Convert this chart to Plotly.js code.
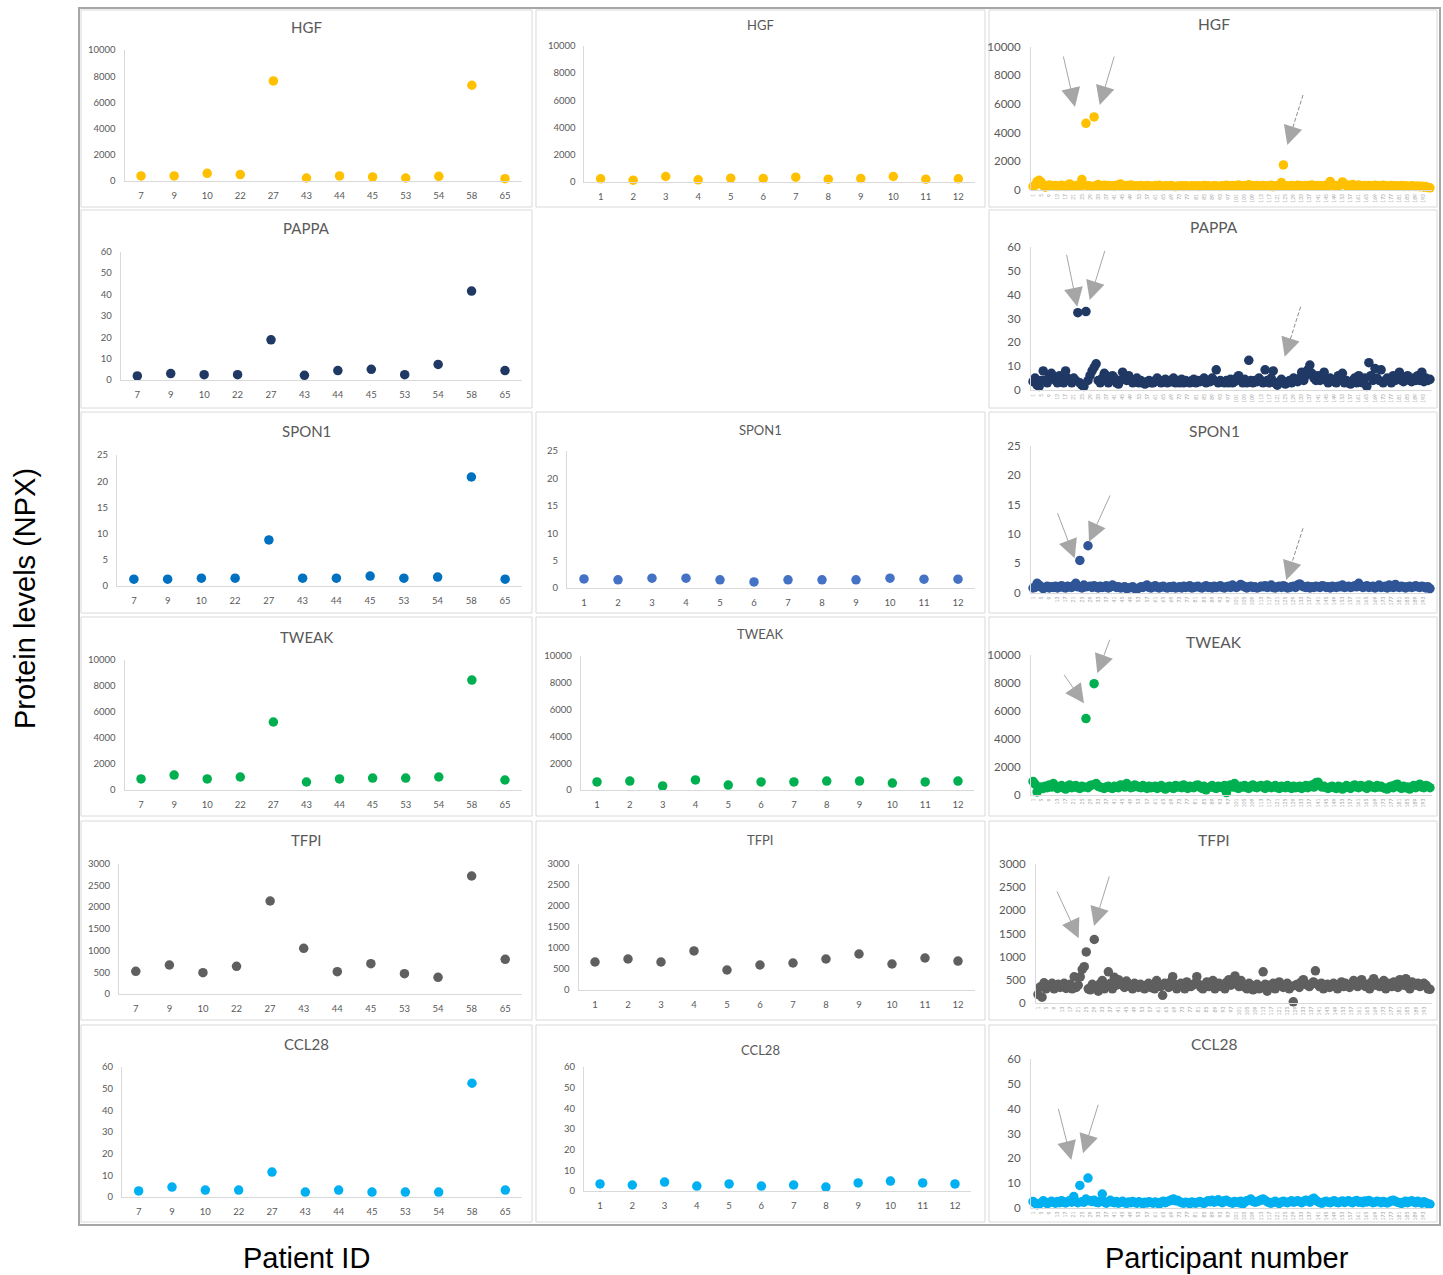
<!DOCTYPE html>
<html><head><meta charset="utf-8">
<script src="https://cdn.plot.ly/plotly-3.0.1.min.js"></script>
<style>html,body{margin:0;padding:0;background:#fff}#chart{width:1443px;height:1275px}</style>
</head><body><div id="chart"></div>
<script>
// ---------- DATA ----------
const patientIds = ['7','9','10','22','27','43','44','45','53','54','58','65'];
const sampleIds = ['1','2','3','4','5','6','7','8','9','10','11','12'];

const hgfPatients   = [385,385,590,487,7640,230,385,308,230,360,7310,180];
const pappaPatients = [1.9,3.0,2.5,2.5,18.8,2.2,4.4,5.0,2.5,7.3,41.6,4.4];
const spon1Patients = [1.3,1.3,1.5,1.5,8.8,1.5,1.5,1.9,1.5,1.7,20.8,1.3];
const tweakPatients = [850,1150,850,1000,5230,615,850,920,920,1000,8460,770];
const tfpiPatients  = [522,668,491,637,2141,1051,514,698,468,384,2717,798];
const ccl28Patients = [2.8,4.6,3.2,3.2,11.5,2.3,3.2,2.3,2.3,2.3,52.5,3.2];

const hgfSamples   = [196,100,368,123,245,220,319,172,220,368,172,196];
const spon1Samples = [1.65,1.5,1.8,1.8,1.5,1.1,1.5,1.5,1.5,1.8,1.6,1.6];
const tweakSamples = [600,670,300,750,370,600,600,670,670,520,600,670];
const tfpiSamples  = [667,738,667,929,476,595,643,738,857,619,762,690];
const ccl28Samples = [3.4,2.9,4.3,2.4,3.4,2.4,2.9,1.9,3.9,4.8,3.9,3.4];

const hgfCohort = [250,320,600,680,550,300,200,280,350,300,
 260,310,240,280,330,290,250,310,420,280,
 300,260,330,280,740,350,4650,300,280,250,
 5100,320,380,300,260,340,280,310,260,300,
 240,330,280,420,300,260,310,270,350,290,
 260,300,240,310,280,260,320,290,250,270,
 310,280,330,260,240,300,280,260,310,250,
 230,280,260,300,240,290,270,250,300,280,
 260,300,240,280,310,260,290,250,270,300,
 280,260,240,300,280,330,260,290,320,270,
 300,350,280,260,310,290,370,260,300,280,
 320,250,290,310,260,300,280,340,230,300,
 280,260,520,1750,300,260,280,310,250,290,
 330,280,300,260,310,280,320,350,290,270,
 310,280,300,260,330,290,600,380,300,320,
 280,350,560,420,300,330,290,380,310,280,
 350,300,270,320,290,310,260,300,340,280,
 300,260,330,290,250,280,310,260,300,280,
 260,310,240,290,270,250,300,260,240,280,
 230,260,200,240,180,150];

const pappaCohort = [3.5,5,2,1.5,4,8,4,3,6,7,
 5,4,3,6,4,3,8,5,4,3,
 5,4,32.5,3,2,1.5,33,4,6,8,
 9.5,11,4,3,5,7,6,3,4,6,
 5,3,2.5,4,7.5,5,4,6,4,3,
 4,5,3,4,3,2.5,3.5,4,3,3,
 4,5,3.5,3,4,4.5,3,4,3.5,5,
 3,4,3,4.5,3,4,3.5,3,4,4.5,
 3,4,3.5,4,5,3,4,3.5,5,4,
 8.5,3,4,3.5,3,4,3,4.5,3,3.5,
 5,6,4,3,4.5,3,12.5,4,3,4,
 3.5,5,4,3,8.5,4,3,5,8,3,
 2,3.5,4.5,3,2.5,3.5,4,3,5,4,
 3.5,5,7.5,4,6,8.5,10.5,7,5,4,
 6,4,5,7.5,4,3,5,4,3.5,3,
 6,5,7,3,4,3,2.5,4,5,3,
 6,4,3,5,1.5,11.5,6,4,9,5,
 4,8.5,3,4,5,4,3,6,4,5,
 7.5,4,3.5,5,6,4,3.5,5,4,6,
 4,7.5,3.5,5,4,4.5];

const spon1Cohort = [0.8,0.9,1.6,1.3,1.0,0.7,0.9,1.1,0.8,1.0,
 0.9,1.1,0.8,1.0,1.2,0.9,0.8,1.1,1.0,0.9,
 1.2,1.6,1.0,5.5,0.8,1.3,1.0,8.0,1.1,0.9,
 1.2,1.0,0.8,1.1,0.9,1.0,1.2,0.8,1.0,1.3,
 1.1,0.9,1.0,0.8,0.9,1.0,0.7,0.8,0.9,1.0,
 0.7,0.6,0.8,1.0,0.9,1.1,1.3,0.9,0.8,1.0,
 1.2,0.9,0.8,1.0,1.1,0.9,0.8,1.0,0.9,1.1,
 0.8,0.9,1.0,0.8,1.1,0.9,1.0,1.2,0.8,0.9,
 1.0,1.1,0.9,0.8,1.0,1.2,0.9,1.0,0.8,1.1,
 0.9,1.0,1.2,0.9,0.8,1.0,1.1,0.9,1.3,1.0,
 0.9,1.1,1.4,1.2,1.0,0.8,1.0,1.1,0.9,1.0,
 0.8,0.9,1.1,1.0,1.2,0.9,1.0,1.3,0.9,0.8,
 1.0,1.1,0.9,1.2,1.0,0.8,0.9,1.0,1.1,0.9,
 1.3,1.5,1.2,1.0,0.9,1.1,0.8,1.0,0.9,1.1,
 1.0,0.9,1.2,1.1,0.9,1.0,0.8,1.1,1.0,0.9,
 1.1,1.0,1.3,0.9,1.0,1.1,0.9,1.0,1.2,1.0,
 1.6,1.1,0.9,1.0,1.2,0.9,1.0,1.1,0.8,1.0,
 1.3,0.9,1.0,1.1,0.8,1.3,1.0,0.9,1.4,1.0,
 0.9,1.1,1.0,0.8,1.0,1.1,0.9,1.0,1.2,1.0,
 0.9,1.1,1.0,0.8,1.0,0.7];

const tweakCohort = [950,750,200,400,550,450,600,500,700,550,
 800,600,450,550,650,500,400,600,700,500,
 550,650,500,450,600,550,5450,500,650,700,
 7950,800,600,550,500,450,550,600,500,450,
 600,550,500,700,650,550,800,600,500,550,
 700,600,550,500,650,550,450,600,500,550,
 600,450,550,650,500,400,550,600,500,450,
 650,550,600,500,700,550,450,600,550,500,
 650,700,550,450,600,350,500,550,650,500,
 450,600,550,500,650,150,600,700,550,800,
 500,450,600,550,650,500,450,600,700,550,
 500,600,650,550,450,700,600,500,550,650,
 500,450,600,550,500,650,550,450,600,500,
 550,600,450,550,650,500,600,700,550,850,
 900,650,550,600,500,450,550,600,500,450,
 600,550,400,500,650,550,450,600,700,550,
 500,650,600,550,450,700,600,550,500,650,
 550,600,500,450,400,550,600,500,700,750,
 550,450,600,500,550,400,550,650,500,600,
 750,550,500,650,600,500];

const tfpiCohort = [180,340,120,430,300,380,350,420,300,360,
 400,330,380,420,310,350,400,300,560,330,
 380,560,720,780,1100,300,280,400,1370,330,
 250,420,480,300,350,670,420,300,550,380,
 500,450,380,330,470,400,350,300,420,380,
 330,400,350,300,380,420,330,370,300,480,
 400,350,160,420,380,330,450,565,400,300,
 350,420,380,300,450,400,350,380,420,565,
 400,330,300,380,450,350,420,480,300,380,
 420,350,400,300,450,500,380,420,580,400,
 350,480,400,330,300,420,380,280,350,400,
 300,330,670,400,250,380,350,420,300,380,
 450,400,330,380,420,300,350,20,380,400,
 330,450,500,420,380,350,400,450,690,400,
 350,420,300,380,400,330,350,420,380,300,
 400,450,350,420,380,330,400,480,450,350,
 420,500,380,350,400,300,450,520,380,420,
 350,400,480,300,420,380,350,450,400,330,
 500,420,380,520,350,300,450,400,380,420,
 350,400,420,380,300,290];

const ccl28Cohort = [2.5,1.8,1.2,1.5,2.0,2.8,2.2,1.6,2.0,2.6,
 2.2,1.8,2.5,2.0,2.8,2.3,1.9,2.4,2.9,2.2,
 4.5,2.6,2.0,9.0,2.4,2.2,3.5,12.0,2.8,2.5,
 3.0,2.2,2.0,2.6,5.5,2.3,1.8,2.4,3.0,2.2,
 2.0,2.5,1.8,2.2,2.6,2.0,1.7,2.3,2.0,2.5,
 2.1,1.8,2.4,2.0,1.6,2.2,1.9,2.4,2.1,1.8,
 2.3,2.0,1.5,2.2,2.6,2.0,2.4,2.8,3.2,3.5,
 2.8,3.0,2.4,2.0,1.8,2.2,2.0,1.6,2.3,2.0,
 1.8,2.2,2.5,2.0,1.7,2.3,2.8,2.4,3.0,2.2,
 2.6,3.2,2.5,2.0,2.8,3.0,2.4,2.2,1.8,2.5,
 2.3,2.0,2.6,1.5,2.2,2.8,3.0,3.5,2.6,2.2,
 2.4,2.8,3.2,3.5,3.0,2.4,2.0,1.8,2.2,2.6,
 2.0,1.7,2.3,2.6,2.2,2.0,2.4,2.8,2.2,2.5,
 2.8,2.4,2.0,2.6,3.0,2.8,2.2,3.4,3.8,3.0,
 2.4,2.0,1.8,2.3,2.6,2.2,2.0,2.5,2.8,2.2,
 2.0,2.4,2.7,2.1,2.5,2.8,2.3,2.0,2.6,2.9,
 2.2,2.5,2.0,2.7,2.3,2.9,2.5,2.0,2.2,2.6,
 2.4,2.0,2.5,2.2,1.9,2.3,2.8,3.0,2.6,2.2,
 2.0,1.7,2.2,2.6,2.0,2.4,2.8,2.3,2.0,2.6,
 2.2,1.8,2.4,2.0,1.6,1.4];

// participant numbers (index of each cohort member) and the labelled ticks
const participants = [];
for (let i = 1; i <= hgfCohort.length; i++) participants.push(i);
const participantTicks = participants.filter(p => (p - 1) % 4 === 0);

// ---------- LAYOUT ----------
const W = 1443, H = 1275;
const C = {hgf:'#FFC000', pappa:'#1F3864', spon1a:'#0070C0', spon1b:'#4472C4', spon1c:'#2F5597',
           tweak:'#00B050', tfpi:'#5F5F5F', ccl28:'#00B0F0'};

// xd: [left,right] px of plot area; yd: [top,bottom] px of y range
const panels = [
 {col:1, x:patientIds, y:hgfPatients, c:C.hgf, xd:[124.5,521.5], yd:[50,181], ymax:10000, dt:2000, t:'HGF', ty:27},
 {col:2, x:sampleIds, y:hgfSamples, c:C.hgf, xd:[584.4,974.6], yd:[46,181.5], ymax:10000, dt:2000, t:'HGF', ty:25},
 {col:3, x:participants, y:hgfCohort, c:C.hgf, xd:[1031,1432], yd:[46.7,190], ymax:10000, dt:2000, t:'HGF', ty:24},
 {col:1, x:patientIds, y:pappaPatients, c:C.pappa, xd:[120.6,521.7], yd:[251.7,380], ymax:60, dt:10, t:'PAPPA', ty:228},
 {col:3, x:participants, y:pappaCohort, c:C.pappa, xd:[1031,1432], yd:[247.3,390], ymax:60, dt:10, t:'PAPPA', ty:227},
 {col:1, x:patientIds, y:spon1Patients, c:C.spon1a, xd:[117,522], yd:[455,586], ymax:25, dt:5, t:'SPON1', ty:431},
 {col:2, x:sampleIds, y:spon1Samples, c:C.spon1b, xd:[567,975], yd:[451,588], ymax:25, dt:5, t:'SPON1', ty:430},
 {col:3, x:participants, y:spon1Cohort, c:C.spon1c, xd:[1031,1432], yd:[446,592.7], ymax:25, dt:5, t:'SPON1', ty:431},
 {col:1, x:patientIds, y:tweakPatients, c:C.tweak, xd:[124.5,521.5], yd:[660,790], ymax:10000, dt:2000, t:'TWEAK', ty:637},
 {col:2, x:sampleIds, y:tweakSamples, c:C.tweak, xd:[580.6,974.4], yd:[656,790], ymax:10000, dt:2000, t:'TWEAK', ty:634},
 {col:3, x:participants, y:tweakCohort, c:C.tweak, xd:[1031,1432], yd:[655,794.7], ymax:10000, dt:2000, t:'TWEAK', ty:642},
 {col:1, x:patientIds, y:tfpiPatients, c:C.tfpi, xd:[119,522], yd:[863.7,994], ymax:3000, dt:500, t:'TFPI', ty:840},
 {col:2, x:sampleIds, y:tfpiSamples, c:C.tfpi, xd:[578.5,974.5], yd:[864,990], ymax:3000, dt:500, t:'TFPI', ty:840},
 {col:3, x:participants, y:tfpiCohort, c:C.tfpi, xd:[1036,1432], yd:[864.3,1002.7], ymax:3000, dt:500, t:'TFPI', ty:840},
 {col:1, x:patientIds, y:ccl28Patients, c:C.ccl28, xd:[122,522], yd:[1067,1197], ymax:60, dt:10, t:'CCL28', ty:1044},
 {col:2, x:sampleIds, y:ccl28Samples, c:C.ccl28, xd:[583.9,971.1], yd:[1067,1191], ymax:60, dt:10, t:'CCL28', ty:1050},
 {col:3, x:participants, y:ccl28Cohort, c:C.ccl28, xd:[1031,1432], yd:[1059.3,1207.7], ymax:60, dt:10, t:'CCL28', ty:1044}
];
const titleX = {1:306, 2:760, 3:1214};
const titleSize = {1:15, 2:13, 3:15.5};

const FONT = 'Lato, "Open Sans", sans-serif';
const TXT = '#595959';
const px = v => v / W, py = v => 1 - v / H;

const traces = [];
const layout = {
  width: W, height: H, margin:{l:0,r:0,t:0,b:0},
  paper_bgcolor:'#fff', plot_bgcolor:'rgba(0,0,0,0)', showlegend:false,
  font:{family:FONT, color:TXT}, annotations:[], shapes:[]
};

panels.forEach((p, i) => {
  const n = i + 1, s = n === 1 ? '' : String(n);
  traces.push({type:'scatter', mode:'markers', x:p.x, y:p.y, xaxis:'x'+s, yaxis:'y'+s,
    cliponaxis:false, hoverinfo:'skip',
    marker:{color:p.c, size:9.5, line:{width:0}}});
  const xa = {domain:[px(p.xd[0]), px(p.xd[1])], anchor:'y'+s, showgrid:false, zeroline:false,
    showline:true, linecolor:'#d9d9d9', linewidth:1, ticks:'', fixedrange:true};
  if (p.col === 3) {
    Object.assign(xa, {type:'linear', range:[0, 197], tickmode:'array', tickvals:participantTicks,
      ticktext:participantTicks.map(String), tickangle:-90, ticklabelstandoff:1,
      tickfont:{size:5, color:'#a6a6a6', family:FONT}});
  } else {
    Object.assign(xa, {type:'category', range:[-0.5, 11.5], ticklabelstandoff:6,
      tickfont:{size:9.5, color:TXT, family:FONT}});
  }
  layout['xaxis'+s] = xa;
  layout['yaxis'+s] = {domain:[py(p.yd[1]), py(p.yd[0])], anchor:'x'+s, range:[0, p.ymax], dtick:p.dt,
    tick0:0, tickformat:'d', showgrid:false, zeroline:false, showline:true, linecolor:'#d9d9d9', linewidth:1,
    ticks:'', ticklabelstandoff: p.col === 3 ? 7 : 6, fixedrange:true,
    tickfont:{size: p.col === 3 ? 11.5 : 9.5, color:TXT, family:FONT}};
  layout.annotations.push({xref:'paper', yref:'paper', x:px(titleX[p.col]), y:py(p.ty),
    xanchor:'center', yanchor:'middle', showarrow:false, text:p.t,
    font:{size:titleSize[p.col], color:TXT, family:FONT}});
});

// panel frames
const colsPx = [[81,532],[536,985],[989,1437]];
const rowsPx = [[10,207],[210,408],[412,613],[617,816],[821,1020],[1025,1222]];
rowsPx.forEach((r, ri) => colsPx.forEach((c, ci) => {
  if (ri === 1 && ci === 1) return; // empty slot
  layout.shapes.push({type:'rect', xref:'paper', yref:'paper', x0:px(c[0]), x1:px(c[1]),
    y0:py(r[1]), y1:py(r[0]), line:{color:'#d9d9d9', width:1}, layer:'below'});
}));
// outer frame
layout.shapes.push({type:'rect', xref:'paper', yref:'paper', x0:px(79), x1:px(1440), y0:py(1225), y1:py(8),
  line:{color:'#a6a6a6', width:2}});

// arrows: [tailX, tailY, tipX, tipY, dashed]
const arrows = [
 [1063,55,1075,107,false],[1114.7,55,1099.7,105,false],[1303,95,1287.3,145,true],
 [1066.3,253.3,1077.3,306.7,false],[1105.3,249.3,1089.7,300,false],[1300.7,306.7,1284.7,356.7,true],
 [1057,511.7,1074.7,558.3,false],[1110.7,494,1089,541.7,false],[1303,528.3,1286.3,580,true],
 [1063,673.3,1084,703.3,false],[1110.3,638.3,1097.3,673.3,false],
 [1056.3,890,1078.7,938.3,false],[1109.7,875,1094,926,false],
 [1058,1107.3,1071.3,1160,false],[1098.7,1103.3,1083,1153.3,false]
];
const AC = '#a6a6a6';
arrows.forEach(([tx, ty, hx, hy, dashed]) => {
  let sx = tx, sy = ty;
  if (dashed) {
    const L = Math.hypot(hx - tx, hy - ty), k = 18 / L;
    sx = hx - (hx - tx) * k; sy = hy - (hy - ty) * k;
    layout.shapes.push({type:'line', xref:'paper', yref:'paper', x0:px(tx), y0:py(ty), x1:px(sx), y1:py(sy),
      line:{color:'#8c8c8c', width:1, dash:'4px,2px'}});
  }
  layout.annotations.push({xref:'paper', yref:'paper', x:px(hx), y:py(hy), ax:sx - hx, ay:sy - hy,
    axref:'pixel', ayref:'pixel', text:'', showarrow:true, arrowhead:2, arrowsize:3.8, arrowwidth:1,
    arrowcolor:AC, standoff:0, startstandoff:0});
});

// outer axis labels
const OUT = {family:'"Liberation Sans", Arial, sans-serif', size:29, color:'#000'};
layout.annotations.push(
  {xref:'paper', yref:'paper', x:px(25), y:py(599), text:'Protein levels (NPX)', textangle:-90,
   showarrow:false, xanchor:'center', yanchor:'middle', font:OUT},
  {xref:'paper', yref:'paper', x:px(306), y:py(1258), text:'Patient ID',
   showarrow:false, xanchor:'center', yanchor:'middle', font:OUT},
  {xref:'paper', yref:'paper', x:px(1227), y:py(1258), text:'Participant number',
   showarrow:false, xanchor:'center', yanchor:'middle', font:OUT}
);

Plotly.newPlot('chart', traces, layout, {displayModeBar:false, staticPlot:true});
</script></body></html>
